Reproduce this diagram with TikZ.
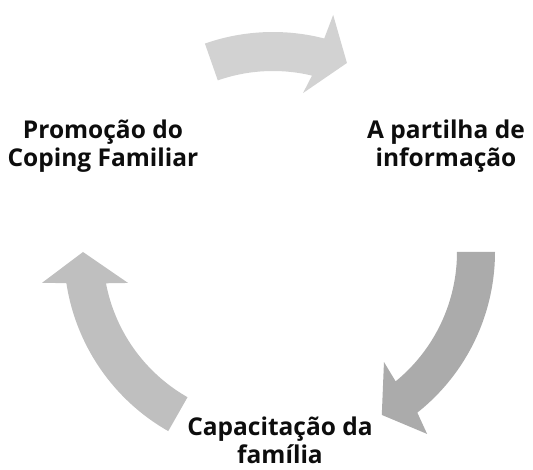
\documentclass[tikz,border=0pt]{standalone}
\usepackage{fontspec}
\setmainfont{Open Sans}
\begin{document}
\begin{tikzpicture}[x=1pt,y=-1pt,
  lbl/.style={align=center,anchor=base,inner sep=0pt,font=\fontsize{24.5}{28}\selectfont\bfseries,text=black!95},
  arrtop/.style={fill=topc},
  arrright/.style={fill=rightc},
  arrleft/.style={fill=leftc}]
\definecolor{topc}{HTML}{D2D2D2}
\definecolor{rightc}{HTML}{ABABAB}
\definecolor{leftc}{HTML}{BFBFBF}
\useasboundingbox (0,0) rectangle (533,470);
% top arrow
\fill[arrtop, shift={(273,238)}] plot[domain=-109.3:-75.6, samples=40] (\x:206) -- (-74.9:231) -- (-67.1:190) -- (-78.3:148) -- (-76.5:167) -- plot[domain=-76.5:-109.3, samples=40] (\x:167) -- cycle;
% right arrow
\fill[arrright, shift={(290,252)}] plot[domain=0:51.6, samples=40] (\x:205) -- (53.0:227.8) -- (60.6:187) -- (49.5:144.7) -- (50.8:167.7) -- plot[domain=50.8:0, samples=40] (\x:167) -- cycle;
% left arrow
\fill[arrleft, shift={(270,252)}] plot[domain=119.6:171.3, samples=40] (\x:206) -- (172.3:230) -- (180:187) -- (167.7:145.3) -- (169.2:167) -- plot[domain=169.2:119.6, samples=40] (\x:167) -- cycle;
% labels
\node[lbl] (coping) at (103,167) {Promoção do\\Coping Familiar};
\node[lbl] (partilha) at (446,167) {A partilha de\\informação};
\node[lbl] (capac) at (280,463.5) {Capacitação da\\família};
\end{tikzpicture}
\end{document}
